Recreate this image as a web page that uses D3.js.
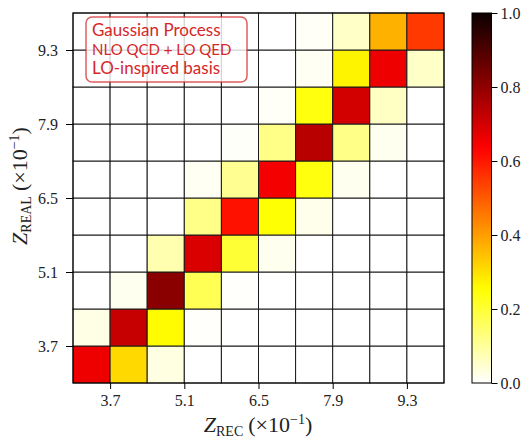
<html>
<head>
<meta charset="utf-8">
<script src="https://d3js.org/d3.v7.min.js"></script>
<style>
body { margin: 0; background: #fff; }
</style>
</head>
<body>
<div id="chart"></div>
<script>
// bin edges (x10^-1) and the ticks shown
var edges = [3.0, 3.7, 4.4, 5.1, 5.8, 6.5, 7.2, 7.9, 8.6, 9.3, 10.0];
var ticks = [3.7, 5.1, 6.5, 7.9, 9.3];
var cbTicks = [0.0, 0.2, 0.4, 0.6, 0.8, 1.0];

// response matrix, one row per Z_REAL bin (bottom to top), columns = Z_REC bins
var row0 = [0.66, 0.31, 0.03, 0, 0, 0, 0, 0, 0, 0];
var row1 = [0.025, 0.72, 0.26, 0.004, 0, 0, 0, 0, 0, 0];
var row2 = [0, 0.015, 0.81, 0.17, 0.004, 0, 0, 0, 0, 0];
var row3 = [0, 0, 0.08, 0.69, 0.20, 0.015, 0, 0, 0, 0];
var row4 = [0, 0, 0, 0.12, 0.61, 0.25, 0.02, 0, 0, 0];
var row5 = [0, 0, 0, 0.012, 0.11, 0.65, 0.24, 0.015, 0, 0];
var row6 = [0, 0, 0, 0, 0.006, 0.12, 0.74, 0.12, 0.015, 0];
var row7 = [0, 0, 0, 0, 0, 0.008, 0.24, 0.70, 0.06, 0];
var row8 = [0, 0, 0, 0, 0, 0, 0.012, 0.27, 0.66, 0.055];
var row9 = [0, 0, 0, 0, 0, 0, 0.008, 0.055, 0.37, 0.55];
var rows = [row0, row1, row2, row3, row4, row5, row6, row7, row8, row9];

var legendLines = ["Gaussian Process", "NLO QCD + LO QED", "LO-inspired basis"];

const w = 528;
const h = 438;

// matplotlib "hot", reversed
function hotR(v) {
  var t = 1 - Math.max(0, Math.min(1, v));
  var a = 0.365079, b = 0.746032;
  var r = t < a ? 0.0416 + t / a * (1 - 0.0416) : 1;
  var g = t < a ? 0 : (t < b ? (t - a) / (b - a) : 1);
  var bl = t < b ? 0 : (t - b) / (1 - b);
  return d3.rgb(r * 255, g * 255, bl * 255).toString();
}

const svg = d3.select("#chart").append("svg")
  .attr("width", w).attr("height", h);

const x = d3.scaleLinear().domain([3.0, 10.0]).range([73, 444]);
const y = d3.scaleLinear().domain([3.0, 10.0]).range([383, 13]);

var cells = [];
rows.forEach(function(r, i) {
  r.forEach(function(v, j) { cells.push({i: i, j: j, v: v}); });
});

svg.append("g").selectAll("rect")
  .data(cells)
  .enter()
  .append("rect")
  .attr("x", d => x(edges[d.j]))
  .attr("y", d => y(edges[d.i + 1]))
  .attr("width", d => x(edges[d.j + 1]) - x(edges[d.j]))
  .attr("height", d => y(edges[d.i]) - y(edges[d.i + 1]))
  .attr("fill", d => hotR(d.v))
  .attr("stroke", "#1a1a1a")
  .attr("stroke-width", 1);

// frame
svg.append("rect")
  .attr("x", x(3.0)).attr("y", y(10.0))
  .attr("width", x(10.0) - x(3.0)).attr("height", y(3.0) - y(10.0))
  .attr("fill", "none").attr("stroke", "#000").attr("stroke-width", 1);

const fmt = d3.format(".1f");
const xaxis = d3.axisBottom(x).tickValues(ticks).tickSize(6).tickPadding(6).tickFormat(fmt);
const yaxis = d3.axisLeft(y).tickValues(ticks).tickSize(7).tickPadding(8).tickFormat(fmt);

svg.append("g")
  .attr("transform", "translate(0," + y(3.0) + ")")
  .call(xaxis)
  .call(g => g.select(".domain").remove());
svg.append("g")
  .attr("transform", "translate(" + x(3.0) + ",0)")
  .call(yaxis)
  .call(g => g.select(".domain").remove());

svg.selectAll(".tick text")
  .attr("font-family", "Liberation Serif, serif")
  .attr("font-size", 16)
  .attr("fill", "#222");
svg.selectAll(".tick line").attr("stroke", "#000");

// axis labels
function mathLabel(sel, sub) {
  sel.attr("font-family", "Liberation Serif, serif").attr("fill", "#222");
  sel.append("tspan").attr("font-style", "italic").attr("font-size", 22).text("Z");
  sel.append("tspan").attr("font-size", 14).attr("dy", 4).text(sub);
  sel.append("tspan").attr("font-size", 22).attr("dy", -4).attr("dx", 5).text("(×10");
  sel.append("tspan").attr("font-size", 14).attr("dy", -8).text("−1");
  sel.append("tspan").attr("font-size", 22).attr("dy", 8).text(")");
}

svg.append("text")
  .attr("x", 258).attr("y", 432)
  .attr("text-anchor", "middle")
  .call(mathLabel, "REC");

svg.append("text")
  .attr("transform", "translate(27,186) rotate(-90)")
  .attr("text-anchor", "middle")
  .call(mathLabel, "REAL");

// legend box
svg.append("rect")
  .attr("x", 86).attr("y", 17).attr("width", 161).attr("height", 65)
  .attr("rx", 6).attr("ry", 6)
  .attr("fill", "#fff").attr("fill-opacity", 0.8)
  .attr("stroke", "#d62728").attr("stroke-opacity", 0.75).attr("stroke-width", 1.5);

var lsize = [17, 15, 17];
var lbase = [36, 55, 74];
svg.append("g").selectAll("text")
  .data(legendLines)
  .enter()
  .append("text")
  .attr("x", 92)
  .attr("y", (d, i) => lbase[i])
  .attr("font-family", "Lato, sans-serif")
  .attr("font-size", (d, i) => lsize[i])
  .attr("fill", "#d62728")
  .text(d => d);

// colorbar
const cb = d3.scaleLinear().domain([0, 1]).range([383, 13]);
var grad = svg.append("defs").append("linearGradient")
  .attr("id", "cbgrad")
  .attr("x1", 0).attr("y1", 1).attr("x2", 0).attr("y2", 0);
d3.range(0, 1.0001, 0.02).forEach(function(v) {
  grad.append("stop").attr("offset", v).attr("stop-color", hotR(v));
});
svg.append("rect")
  .attr("x", 472).attr("y", cb(1)).attr("width", 19.5).attr("height", cb(0) - cb(1))
  .attr("fill", "url(#cbgrad)")
  .attr("stroke", "#000").attr("stroke-width", 1);

const cbaxis = d3.axisRight(cb).tickValues(cbTicks).tickSize(6).tickPadding(3).tickFormat(fmt);
svg.append("g")
  .attr("transform", "translate(491.5,0)")
  .call(cbaxis)
  .call(g => g.select(".domain").remove())
  .call(g => g.selectAll("text").attr("font-family", "Liberation Serif, serif").attr("font-size", 16).attr("fill", "#222"))
  .call(g => g.selectAll("line").attr("stroke", "#000"));
</script>
</body>
</html>
